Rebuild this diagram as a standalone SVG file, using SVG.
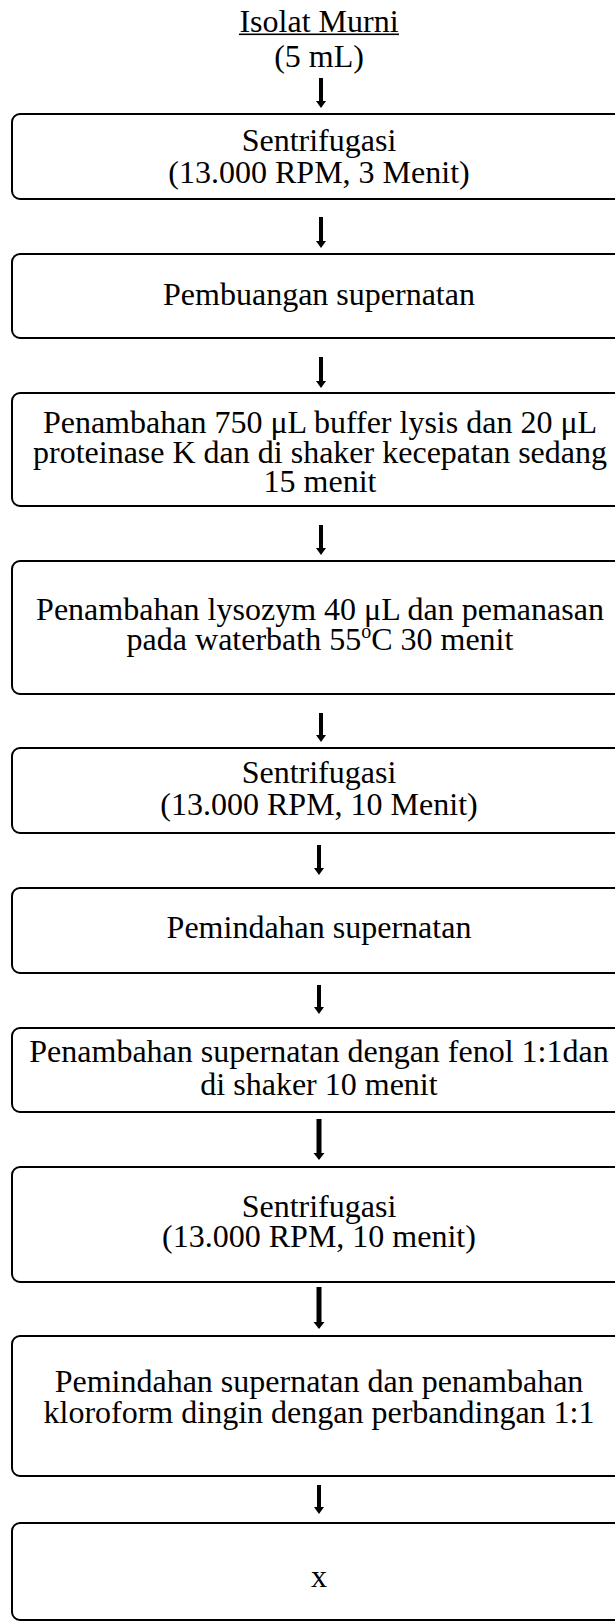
<svg xmlns="http://www.w3.org/2000/svg" width="615" height="1623" viewBox="0 0 615 1623">
<style>
.box{fill:#fff;stroke:#000;stroke-width:2}
.t{font-family:"Liberation Serif","Times New Roman",serif;font-size:32px;fill:#000;text-anchor:middle}
.arr{fill:#000;stroke:none}
</style>
<rect width="615" height="1623" fill="#fff"/>
<g id="start">
<text class="t" x="319" y="32">Isolat Murni</text>
<rect x="239" y="33.5" width="160" height="1.6" fill="#000"/>
<text class="t" x="319" y="67">(5 mL)</text>
</g>
<g id="connectors">
<path class="arr" d="M319,78 h4 v23 h3 l-5,7 l-5,-7 h3 z"/>
<path class="arr" d="M319,217 h4 v24 h3 l-5,7 l-5,-7 h3 z"/>
<path class="arr" d="M319,357 h4 v24 h3 l-5,7 l-5,-7 h3 z"/>
<path class="arr" d="M319,525 h4 v23 h3 l-5,7 l-5,-7 h3 z"/>
<path class="arr" d="M319,713 h4 v22 h3 l-5,7 l-5,-7 h3 z"/>
<path class="arr" d="M317,845 h4 v23 h3 l-5,7 l-5,-7 h3 z"/>
<path class="arr" d="M317,985 h4 v22 h3 l-5,7 l-5,-7 h3 z"/>
<path class="arr" d="M316.5,1119 h5 v34 h3 l-5.5,7 l-5.5,-7 h3 z"/>
<path class="arr" d="M316.5,1287 h5 v35 h3 l-5.5,7 l-5.5,-7 h3 z"/>
<path class="arr" d="M317,1485 h4 v22 h3 l-5,7 l-5,-7 h3 z"/>
</g>
<g id="n1">
<rect class="box" x="12" y="114" width="620" height="85" rx="8"/>
<text class="t" x="319" y="151">Sentrifugasi</text>
<text class="t" x="319" y="183">(13.000 RPM, 3 Menit)</text>
</g>
<g id="n2">
<rect class="box" x="12" y="254" width="620" height="84" rx="8"/>
<text class="t" x="319" y="305">Pembuangan supernatan</text>
</g>
<g id="n3">
<rect class="box" x="12" y="393" width="620" height="113" rx="8"/>
<text class="t" x="320" y="433">Penambahan 750 μL buffer lysis dan 20 μL</text>
<text class="t" x="320" y="463">proteinase K dan di shaker kecepatan sedang</text>
<text class="t" x="320" y="492">15 menit</text>
</g>
<g id="n4">
<rect class="box" x="12" y="561" width="620" height="133" rx="8"/>
<text class="t" x="320" y="620">Penambahan lysozym 40 μL dan pemanasan</text>
<text class="t" x="320" y="650">pada waterbath 55<tspan font-size="20" dy="-12">o</tspan><tspan dy="12">C 30 menit</tspan></text>
</g>
<g id="n5">
<rect class="box" x="12" y="748" width="620" height="85" rx="8"/>
<text class="t" x="319" y="783">Sentrifugasi</text>
<text class="t" x="319" y="815">(13.000 RPM, 10 Menit)</text>
</g>
<g id="n6">
<rect class="box" x="12" y="888" width="620" height="85" rx="8"/>
<text class="t" x="319" y="938">Pemindahan supernatan</text>
</g>
<g id="n7">
<rect class="box" x="12" y="1028" width="620" height="84" rx="8"/>
<text class="t" x="319" y="1062">Penambahan supernatan dengan fenol 1:1dan</text>
<text class="t" x="319" y="1095">di shaker 10 menit</text>
</g>
<g id="n8">
<rect class="box" x="12" y="1167" width="620" height="115" rx="8"/>
<text class="t" x="319" y="1217">Sentrifugasi</text>
<text class="t" x="319" y="1247">(13.000 RPM, 10 menit)</text>
</g>
<g id="n9">
<rect class="box" x="12" y="1336" width="620" height="140" rx="8"/>
<text class="t" x="319" y="1392">Pemindahan supernatan dan penambahan</text>
<text class="t" x="319" y="1423">kloroform dingin dengan perbandingan 1:1</text>
</g>
<g id="n10">
<rect class="box" x="12" y="1523" width="620" height="97" rx="8"/>
<text class="t" x="319" y="1587">x</text>
</g>
</svg>
